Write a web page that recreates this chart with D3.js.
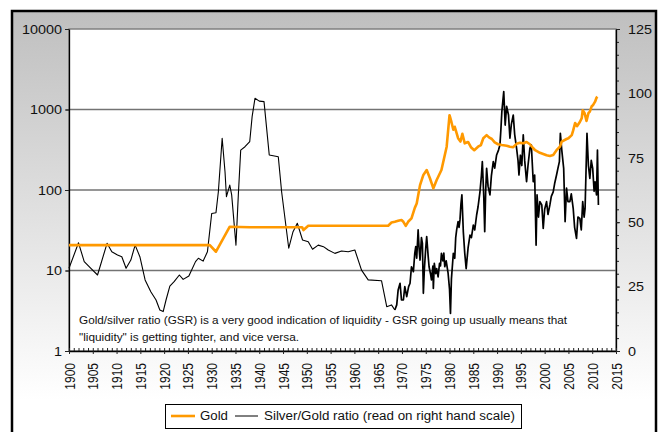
<!DOCTYPE html>
<html>
<head>
<meta charset="utf-8">
<script src="https://cdn.jsdelivr.net/npm/d3@7/dist/d3.min.js"></script>
<style>
  body { margin: 0; background: #fff; }
  svg { display: block; font-family: "Liberation Sans", Arial, sans-serif; }
</style>
</head>
<body>
<div id="chart"></div>
<script>
// gold price (USD/oz, left log scale)
var goldYears = [1900, 1929.6, 1930.9, 1933.8, 1938, 1949.0, 1949.3, 1950.3, 1967.1, 1967.8,
  1968.5, 1969.2, 1969.9, 1970.3, 1970.8, 1971.3, 1972.0, 1972.7, 1973.1, 1973.8,
  1974.5, 1975.2, 1975.9, 1976.6, 1977.3, 1978.3, 1979.4, 1980.0, 1980.4, 1980.8,
  1981.1, 1981.8, 1982.3, 1982.7, 1983.2, 1983.9, 1984.5, 1985.2, 1986.0, 1986.6,
  1987.1, 1987.8, 1988.3, 1988.9, 1989.5, 1990.2, 1991.0, 1992.0, 1992.7, 1993.4,
  1994.1, 1994.8, 1995.5, 1996.2, 1996.9, 1997.6, 1998.0, 1999.0, 1999.7, 2000.4,
  2001.1, 2001.8, 2002.5, 2003.2, 2003.6, 2004.6, 2005.0, 2005.7, 2006.0, 2006.4,
  2006.8, 2007.4, 2007.8, 2008.0, 2008.4, 2008.8, 2009.2, 2009.5, 2009.9, 2010.2,
  2010.6, 2010.9, 2011.1];
var goldPrices = [20.67, 20.67, 17.1, 35.0, 34.5, 34.5, 31.8, 36.0, 36.0, 39.4,
  40.3, 41.5, 42.4, 40.3, 35.8, 40.3, 44.5, 60, 68, 115,
  154, 177, 139, 105, 133, 177, 345, 850, 700, 560,
  610, 440, 400, 500, 380, 395, 340, 312, 345, 362,
  440, 480, 450, 430, 390, 370, 362, 355, 345, 340,
  375, 385, 380, 395, 370, 330, 312, 290, 280, 270,
  265, 272, 312, 345, 400, 430, 440, 480, 550, 680,
  620, 700, 780, 980, 900, 720, 900, 940, 1100, 1140,
  1250, 1400, 1440];

// silver/gold ratio (right scale)
var ratioYears = [1900.0, 1902.0, 1903.2, 1904.6, 1906.0, 1908.0, 1909.0, 1910.2, 1911.1, 1912.0,
  1913.0, 1913.9, 1914.9, 1916.0, 1917.2, 1918.3, 1919.1, 1919.8, 1920.4, 1921.2,
  1922.1, 1923.2, 1924.0, 1925.2, 1926.6, 1927.2, 1928.2, 1929.1, 1930.0, 1930.9,
  1931.4, 1932.2, 1932.8, 1933.1, 1933.8, 1934.2, 1935.1, 1935.6, 1936.1, 1937.0,
  1938.0, 1938.5, 1939.1, 1940.0, 1941.0, 1942.1, 1944.0, 1944.7, 1946.2, 1947.1,
  1948.0, 1949.1, 1950.3, 1951.2, 1952.4, 1953.5, 1954.5, 1955.9, 1957.3, 1958.7,
  1960.1, 1961.5, 1962.9, 1965.7, 1966.8, 1967.8, 1968.5, 1968.9, 1969.2, 1969.6,
  1969.9, 1970.3, 1970.6, 1971.0, 1971.4, 1971.7, 1972.0, 1972.4, 1972.7, 1972.9,
  1973.1, 1973.4, 1973.6, 1973.8, 1974.1, 1974.3, 1974.5, 1974.7, 1975.0, 1975.2,
  1975.5, 1975.7, 1976.0, 1976.2, 1976.5, 1976.6, 1976.8, 1977.1, 1977.3, 1977.6,
  1977.9, 1978.1, 1978.3, 1978.6, 1978.8, 1979.0, 1979.3, 1979.7, 1980.0, 1980.2,
  1980.4, 1980.8, 1981.1, 1981.3, 1981.5, 1981.8, 1982.0, 1982.2, 1982.4, 1982.6,
  1982.9, 1983.2, 1983.5, 1983.9, 1984.3, 1984.6, 1985.0, 1985.3, 1985.7, 1986.0,
  1986.4, 1986.7, 1986.9, 1987.2, 1987.4, 1987.6, 1987.8, 1988.1, 1988.5, 1988.8,
  1989.2, 1989.5, 1989.9, 1990.3, 1990.6, 1990.8, 1991.0, 1991.4, 1991.7, 1992.0,
  1992.4, 1992.7, 1993.0, 1993.4, 1993.7, 1994.1, 1994.4, 1994.6, 1994.9, 1995.2,
  1995.5, 1995.8, 1996.2, 1996.5, 1996.9, 1997.2, 1997.6, 1997.9, 1998.2, 1998.4,
  1998.7, 1999.0, 1999.4, 1999.7, 2000.0, 2000.4, 2000.7, 2001.1, 2001.4, 2001.8,
  2002.1, 2002.5, 2002.8, 2003.1, 2003.3, 2003.6, 2004.0, 2004.3, 2004.6, 2004.9,
  2005.3, 2005.6, 2006.0, 2006.3, 2006.7, 2007.0, 2007.4, 2007.7, 2008.0, 2008.3,
  2008.5, 2008.7, 2008.9, 2009.2, 2009.5, 2009.8, 2010.1, 2010.4, 2010.6, 2010.9,
  2011.1, 2011.3];
var ratioValues = [32.1, 42.0, 34.7, 32.1, 29.5, 41.8, 38.5, 37.3, 36.6, 32.1,
  35.3, 41.1, 36.6, 27.6, 23.0, 19.8, 15.9, 15.3, 19.8, 25.2,
  26.9, 29.5, 27.8, 29.1, 34.7, 36.0, 34.9, 38.5, 53.4, 53.7,
  61.8, 82.6, 69.6, 59.9, 64.4, 60.6, 41.1, 60.6, 78.0, 79.3,
  81.3, 91.0, 98.1, 97.0, 96.8, 76.1, 75.4, 61.8, 39.9, 46.3,
  49.6, 43.1, 42.4, 39.5, 41.1, 40.5, 39.2, 37.9, 38.8, 38.5,
  39.2, 31.4, 27.6, 27.3, 17.2, 17.9, 15.9, 17.9, 23.7, 26.3,
  19.8, 19.8, 25.0, 21.1, 25.0, 26.3, 32.7, 30.8, 38.0, 40.5,
  36.0, 47.0, 40.0, 35.3, 44.0, 41.8, 22.4, 31.4, 40.0, 44.4,
  37.0, 32.7, 30.0, 27.6, 33.0, 24.3, 34.0, 30.0, 32.0, 28.8,
  34.0, 33.0, 37.9, 35.0, 38.0, 32.7, 35.0, 30.2, 24.0, 14.6,
  28.0, 37.9, 36.0, 44.0, 47.0, 50.2, 48.0, 50.9, 57.0, 60.6,
  46.3, 38.0, 32.0, 40.0, 45.0, 44.0, 48.9, 47.0, 52.8, 56.0,
  61.8, 68.0, 73.5, 60.0, 46.3, 62.0, 70.9, 64.0, 60.6, 68.0,
  73.5, 71.0, 76.1, 78.0, 80.0, 86.0, 92.9, 100.7, 87.7, 95.0,
  91.6, 82.6, 88.0, 91.6, 84.0, 78.7, 74.0, 68.3, 76.0, 72.0,
  83.9, 74.0, 65.7, 72.0, 78.7, 80.0, 65.7, 68.3, 41.1, 60.6,
  52.0, 58.0, 56.7, 47.6, 55.0, 58.0, 53.0, 56.7, 60.0, 61.8,
  65.0, 68.3, 71.0, 73.5, 84.5, 78.0, 70.9, 50.2, 63.2, 58.0,
  58.0, 61.0, 55.4, 48.0, 43.7, 52.0, 51.5, 47.0, 58.0, 52.0,
  55.4, 70.0, 84.5, 72.0, 67.0, 74.0, 70.9, 62.0, 65.7, 60.6,
  78.0, 56.7];

var leftTicks = [1, 10, 100, 1000, 10000];
var rightTicks = [0, 25, 50, 75, 100, 125];
var yearTicks = [1900, 1905, 1910, 1915, 1920, 1925, 1930, 1935, 1940, 1945, 1950, 1955,
  1960, 1965, 1970, 1975, 1980, 1985, 1990, 1995, 2000, 2005, 2010, 2015];
var noteLines = ["Gold/silver ratio (GSR) is a very good indication of liquidity - GSR going up usually means that",
  "\"liquidity\" is getting tighter, and vice versa."];
var legendLabels = ["Gold", "Silver/Gold ratio (read on right hand scale)"];

var width = 659, height = 432;
var plot = {left: 69, right: 616, top: 29, bottom: 351};
var stretch = 1.2; // text in the source is a little wide
var dailyFrom = 1968.5; // ratio data gets dense (daily) from here

var svg = d3.select("#chart")
            .append("svg")
            .attr("width", width)
            .attr("height", height);

// background gradient + frame
var grad = svg.append("defs")
              .append("linearGradient")
              .attr("id", "bg")
              .attr("gradientUnits", "userSpaceOnUse")
              .attr("x1", 0).attr("y1", 11)
              .attr("x2", 0).attr("y2", 400);
grad.append("stop").attr("offset", 0).attr("stop-color", "#bfbfbf");
grad.append("stop").attr("offset", 1).attr("stop-color", "#ffffff");

svg.append("rect")
   .attr("x", 12).attr("y", 11)
   .attr("width", 644).attr("height", 440)
   .style("fill", "url(#bg)")
   .style("stroke", "#000")
   .style("stroke-width", 2.5);

svg.append("rect")
   .attr("x", plot.left).attr("y", plot.top)
   .attr("width", plot.right - plot.left)
   .attr("height", plot.bottom - plot.top)
   .style("fill", "#fff")
   .style("stroke", "#808080")
   .style("stroke-width", 1.5);

// scales
var xScale = d3.scaleLinear().domain([1900, 2015]).range([plot.left, plot.right]);
var yLeft = d3.scaleLog().domain([1, 10000]).range([plot.bottom, plot.top]);
var yRight = d3.scaleLinear().domain([0, 125]).range([plot.bottom, plot.top]);

// grid lines at the decades
svg.append("g")
   .attr("class", "grid")
   .selectAll("line")
   .data(leftTicks.slice(1, 4))
   .enter()
   .append("line")
   .attr("x1", plot.left).attr("x2", plot.right)
   .attr("y1", function(d) { return yLeft(d); })
   .attr("y2", function(d) { return yLeft(d); })
   .style("stroke", "#737373")
   .style("stroke-width", 1.6);

// left axis: minor ticks then labelled major ticks
svg.append("g")
   .attr("transform", "translate(" + plot.left + ",0)")
   .call(d3.axisLeft(yLeft).ticks(4).tickFormat("").tickSize(3).tickSizeOuter(0))
   .call(function(g) { g.select(".domain").remove(); });

var leftAxis = svg.append("g")
   .attr("transform", "translate(" + plot.left + ",0)")
   .call(d3.axisLeft(yLeft).tickValues(leftTicks).tickFormat(d3.format("d")).tickSize(4).tickSizeOuter(0));

// right axis
svg.append("g")
   .attr("transform", "translate(" + plot.right + ",0)")
   .call(d3.axisRight(yRight).tickValues(d3.range(0, 126, 5)).tickFormat("").tickSize(3).tickSizeOuter(0))
   .call(function(g) { g.select(".domain").remove(); });

var rightAxis = svg.append("g")
   .attr("transform", "translate(" + plot.right + ",0)")
   .call(d3.axisRight(yRight).tickValues(rightTicks).tickSize(4).tickSizeOuter(0));

// bottom axis: yearly ticks inward, labels every 5 years
svg.append("g")
   .attr("transform", "translate(0," + plot.bottom + ")")
   .call(d3.axisBottom(xScale).tickValues(d3.range(1900, 2016, 1)).tickFormat("").tickSize(-3).tickSizeOuter(0))
   .call(function(g) { g.select(".domain").remove(); });

var bottomAxis = svg.append("g")
   .attr("transform", "translate(0," + plot.bottom + ")")
   .call(d3.axisBottom(xScale).tickValues(yearTicks).tickFormat(d3.format("d")).tickSize(3).tickSizeOuter(0));

svg.selectAll(".tick line").style("stroke", "#222");
svg.selectAll(".domain").style("stroke", "#000").style("stroke-width", 1.3);

leftAxis.selectAll("text")
        .attr("x", 0).attr("dy", "0.35em")
        .attr("transform", "translate(-7,0) scale(" + stretch + ",1)")
        .style("font-size", "12px").style("fill", "#111");

rightAxis.selectAll("text")
         .attr("x", 0).attr("dy", "0.35em")
         .attr("transform", "translate(12,0) scale(" + stretch + ",1)")
         .style("font-size", "12px").style("fill", "#111");

bottomAxis.selectAll("text")
          .attr("x", 0).attr("y", 0).attr("dy", "0.35em")
          .attr("transform", "translate(0,12) scale(" + stretch + ",1) rotate(-90)")
          .style("text-anchor", "end")
          .style("font-size", "12px").style("fill", "#111");

// series
var ratioPoints = ratioValues.map(function(v, i) { return [ratioYears[i], v]; });
var goldPoints = goldPrices.map(function(v, i) { return [goldYears[i], v]; });

var goldLine = d3.line()
                 .x(function(d) { return xScale(d[0]); })
                 .y(function(d) { return yLeft(d[1]); });

var ratioLine = d3.line()
                  .x(function(d) { return xScale(d[0]); })
                  .y(function(d) { return yRight(d[1]); });

// annual part thin, daily part drawn heavier like the dense original
svg.append("path")
   .attr("d", ratioLine(ratioPoints.filter(function(d) { return d[0] <= dailyFrom; })))
   .style("fill", "none")
   .style("stroke", "#000")
   .style("stroke-width", 1.1)
   .style("stroke-linejoin", "round");

svg.append("path")
   .attr("d", ratioLine(ratioPoints.filter(function(d) { return d[0] >= dailyFrom; })))
   .style("fill", "none")
   .style("stroke", "#000")
   .style("stroke-width", 1.7)
   .style("stroke-linejoin", "round");

svg.append("path")
   .attr("d", goldLine(goldPoints))
   .style("fill", "none")
   .style("stroke", "#ff9900")
   .style("stroke-width", 2.6)
   .style("stroke-linejoin", "round");

// note inside the plot
var noteWidths = [488, 220];
svg.selectAll(".note")
   .data(noteLines)
   .enter()
   .append("text")
   .attr("class", "note")
   .attr("x", 79)
   .attr("y", function(d, i) { return 324 + i * 16.5; })
   .attr("textLength", function(d, i) { return noteWidths[i]; })
   .attr("lengthAdjust", "spacingAndGlyphs")
   .style("font-size", "11px")
   .style("fill", "#111")
   .text(function(d) { return d; });

// legend
var legend = svg.append("g");
legend.append("rect")
      .attr("x", 165.5).attr("y", 404.5)
      .attr("width", 356).attr("height", 24)
      .style("fill", "#fff")
      .style("stroke", "#000");

var legendItems = [
  {label: legendLabels[0], color: "#ff9900", w: 2.6, x1: 171, x2: 195, tx: 200, tl: 28},
  {label: legendLabels[1], color: "#000", w: 1, x1: 235, x2: 258, tx: 264, tl: 251}
];
legendItems.forEach(function(item) {
  legend.append("line")
        .attr("x1", item.x1).attr("x2", item.x2)
        .attr("y1", 416).attr("y2", 416)
        .style("stroke", item.color)
        .style("stroke-width", item.w);
  legend.append("text")
        .attr("x", item.tx).attr("y", 420)
        .attr("textLength", item.tl)
        .attr("lengthAdjust", "spacingAndGlyphs")
        .style("font-size", "12px")
        .style("fill", "#111")
        .text(item.label);
});
</script>
</body>
</html>
